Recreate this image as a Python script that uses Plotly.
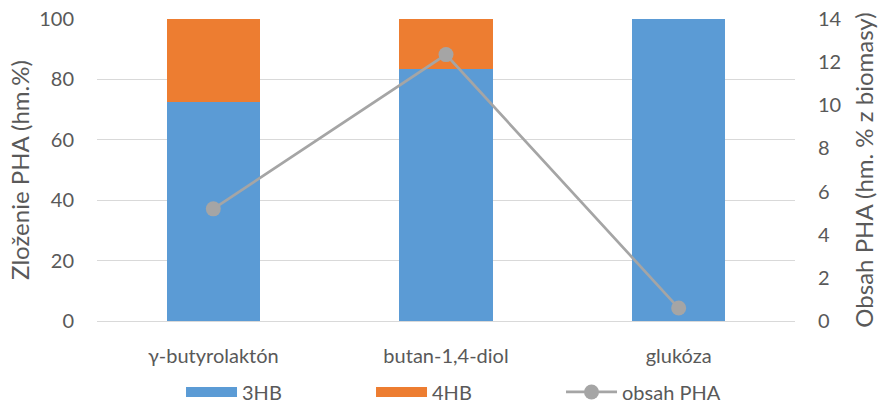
import plotly.graph_objects as go

categories = ["γ-butyrolaktón", "butan-1,4-diol", "glukóza"]
hb3 = [72.4, 83.3, 100.0]
hb4 = [27.6, 17.1, 0.0]
obsah_pha = [5.2, 12.35, 0.6]

BLUE = "#5B9BD5"
ORANGE = "#ED7D31"
GRAY = "#A5A5A5"
TXT = "#595959"
FONT = "Lato"

fig = go.Figure()
fig.add_trace(go.Bar(x=categories, y=hb3, name="3HB", marker=dict(color=BLUE, line=dict(width=0)),
                     showlegend=False))
fig.add_trace(go.Bar(x=categories, y=hb4, name="4HB", marker=dict(color=ORANGE, line=dict(width=0)),
                     showlegend=False))
fig.add_trace(go.Scatter(x=categories, y=obsah_pha, name="obsah PHA", yaxis="y2", mode="lines+markers",
                         line=dict(color=GRAY, width=2.7), marker=dict(color=GRAY, size=15),
                         showlegend=False))
# legend entries
fig.add_trace(go.Scatter(x=[None], y=[None], name="3HB", mode="lines", line=dict(color=BLUE, width=13)))
fig.add_trace(go.Scatter(x=[None], y=[None], name="4HB", mode="lines", line=dict(color=ORANGE, width=13)))
fig.add_trace(go.Scatter(x=[None], y=[None], name="obsah PHA", mode="lines+markers",
                         line=dict(color=GRAY, width=2.7), marker=dict(color=GRAY, size=15)))

fig.update_layout(
    width=880, height=407,
    margin=dict(l=97, r=85, t=19, b=86),
    paper_bgcolor="white", plot_bgcolor="white",
    barmode="stack", bargap=0.6,
    font=dict(family=FONT, size=20, color=TXT),
    showlegend=True,
    legend=dict(orientation="h", xref="container", yref="container",
                x=0.2057, xanchor="left", y=0.037, yanchor="middle",
                itemwidth=51, entrywidth=124, entrywidthmode="pixels",
                font=dict(family=FONT, size=20, color=TXT), traceorder="normal"),
    xaxis=dict(showline=False, ticks="", ticklabelstandoff=21, automargin=False,
               tickfont=dict(size=20, color=TXT)),
    yaxis=dict(range=[0, 100], dtick=20, showgrid=True, gridcolor="#D9D9D9", gridwidth=1.3,
               zeroline=True, zerolinecolor="#D9D9D9", zerolinewidth=1.3, showline=False,
               ticklabelstandoff=22, automargin=False, tickfont=dict(size=20, color=TXT),
               title=dict(text="Zloženie PHA (hm.%)", font=dict(size=24, color=TXT), standoff=2)),
    yaxis2=dict(range=[0, 14], dtick=2, overlaying="y", side="right", showgrid=False, zeroline=False,
                showline=False, ticklabelstandoff=22, automargin=False, tickfont=dict(size=20, color=TXT),
                title=dict(text="Obsah PHA (hm. % z biomasy)", font=dict(size=24, color=TXT), standoff=15)),
)

fig.write_html("out.html", config={"displayModeBar": False},
               post_script="document.body.style.margin='0px';")
